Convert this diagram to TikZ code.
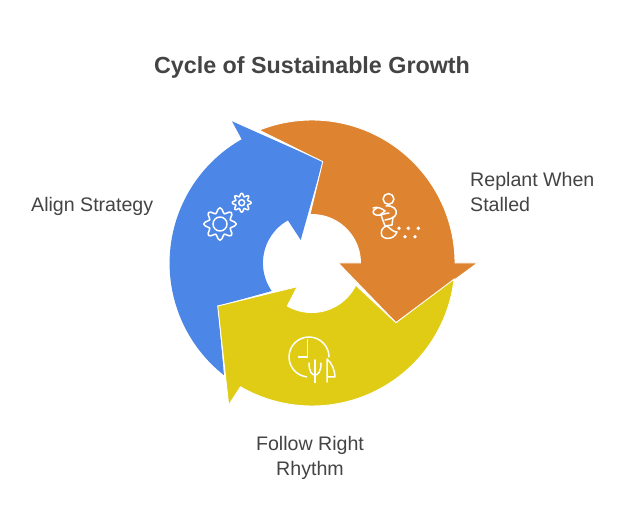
\documentclass[tikz,border=0pt]{standalone}
\usepackage{fontspec}
\setmainfont{Liberation Sans}
\definecolor{cblue}{HTML}{4C86E6}
\definecolor{corange}{HTML}{DE8431}
\definecolor{cyellow}{HTML}{E0CC14}
\definecolor{ctext}{HTML}{444444}
\tikzset{
  segment/.style={draw=white,line width=0.9pt,line join=miter},
  icon/.style={draw=white,line width=1.5pt,line cap=round,line join=round},
  label/.style={text=ctext,font=\fontsize{19.6}{24.5}\selectfont,inner sep=0pt},
}
\begin{document}
\begin{tikzpicture}[x=1pt,y=1pt]
\useasboundingbox (0,0) rectangle (624,528);
\fill[white] (0,0) rectangle (624,528);
\coordinate (c) at (312,265);
% blue
\fill[cblue] (322.7,366.3) -- (232,406.7) -- (241.7,388.7)
  arc[start angle=119.6,end angle=231.8,radius=142.5]
  -- (217.7,222) -- (271.7,237)
  arc[start angle=214.8,end angle=119.4,radius=49]
  -- (300.7,288) -- cycle;
% orange
\draw[segment,fill=corange] ([shift={(111.7:143)}]c)
  arc[start angle=111.7,end angle=0,radius=143]
  -- (477.5,265) -- (396,205.3) -- (338.3,265) -- (360.5,265)
  arc[start angle=0,end angle=92.4,radius=48.5]
  -- (322.7,366.3) -- cycle;
% yellow
\draw[segment,fill=cyellow] ([shift={(-6.5:143)}]c)
  arc[start angle=-6.5,end angle=-120,radius=143]
  -- (228.7,123) -- (217.7,222) -- (297.3,241.3) -- (287.3,222)
  arc[start angle=240,end angle=333.8,radius=49]
  -- (396,205.3) -- cycle;
% texts
\node[label,font=\bfseries\fontsize{23.3}{28}\selectfont] (title) at (312,461) {Cycle of Sustainable Growth};
\node[label,anchor=west] (align) at (31,322) {Align Strategy};
\node[label,anchor=west,align=left] (replant) at (470,336) {Replant When\\Stalled};
\node[label,align=center] (follow) at (310,70) {Follow Right\\Rhythm};
% icons, in reference pixel coordinates
\begin{scope}[shift={(0pt,528pt)},y=-1pt]
  \draw[icon] plot[smooth cycle,domain=0:352.5,samples=48] ({220+(13.6+2.6*cos(8*\x))*cos(\x)},{224+(13.6+2.6*cos(8*\x))*sin(\x)});
  \draw[icon] (220,224) circle[radius=7pt];
  \draw[icon] plot[smooth cycle,domain=0:352.5,samples=48] ({241.7+(7.9+1.7*cos(8*\x))*cos(\x)},{202.7+(7.9+1.7*cos(8*\x))*sin(\x)});
  \draw[icon] (241.7,202.7) circle[radius=3pt];
  % person
  \draw[icon] (388.5,199) circle[radius=5.4pt];
  \draw[icon] (386,206) .. controls (393,205) and (398,210) .. (396,214) .. controls (395,218) and (390,219) .. (385,220);
  \draw[icon] (373,208) .. controls (377,206) and (383,209) .. (385,211) -- (380,215);
  \draw[icon] (377,208) .. controls (372,210) and (372,214) .. (376,215) .. controls (381,216) and (385,213) .. (389,213);
  \draw[icon] (381,215) -- (385,226) -- (392,225) -- (393,217);
  \draw[icon] (387,226) .. controls (382,227) and (380,232) .. (382,236) .. controls (384,239) and (390,239) .. (393,237) .. controls (395,236) and (396,234) .. (397,232) .. controls (393,232) and (391,229) .. (387,226);
  \fill[white] (399,228.3) circle[radius=1.9pt] (408.3,228.3) circle[radius=1.9pt] (418.3,228.3) circle[radius=1.9pt] (405,236.7) circle[radius=1.9pt] (415,236.7) circle[radius=1.9pt];
  % rhythm
  \draw[icon] (329,357) arc[start angle=0,end angle=263,radius=20pt];
  \draw[icon] (307.7,340) -- (307.7,357) -- (298.5,357);
  \draw[icon] (315,360) -- (315,382.5);
  \draw[icon] (309,363) .. controls (309,372) and (312,375) .. (315,375) .. controls (318,375) and (321,372) .. (321,363);
  \draw[icon] (327,382) -- (327,359) .. controls (332,363) and (335,371) .. (335,377) -- (327,377);
\end{scope}
\end{tikzpicture}
\end{document}
